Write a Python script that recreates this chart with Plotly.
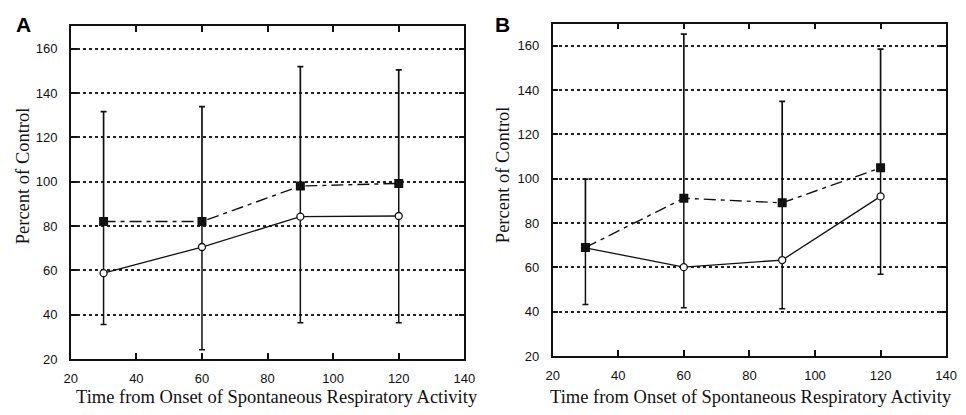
import plotly.graph_objects as go

W, H = 966, 415

time = [30, 60, 90, 120]

# Panel A
a_square = [82, 82, 98, 99.2]
a_square_upper = [131.6, 133.8, 151.9, 150.4]
a_circle = [58.7, 70.5, 84.2, 84.5]
a_circle_lower = [35.5, 24.1, 36.3, 36.3]

# Panel B
b_square = [69, 91.2, 89.1, 104.9]
b_square_upper = [99.8, 165.2, 134.9, 158.5]
b_circle = [68.8, 60.1, 63.3, 92]
b_circle_lower = [43.2, 41.8, 41.3, 56.9]

x_ticks = [20, 40, 60, 80, 100, 120, 140]
y_ticks = [20, 40, 60, 80, 100, 120, 140, 160]

TICKFONT = dict(family="Liberation Sans, Arial", size=13, color="#111")
TITLEFONT = dict(family="Liberation Serif, Times New Roman", size=18.5, color="#111")

fig = go.Figure()


def add_panel(xa, ya, sq, sq_up, ci, ci_lo):
    # open-circle series: lower error bar plus connector up to the square
    fig.add_trace(go.Scatter(
        x=time, y=ci, xaxis=xa, yaxis=ya, mode="lines+markers",
        line=dict(color="#111", width=1.3),
        marker=dict(symbol="circle", size=7, color="white",
                    line=dict(color="#111", width=1.3)),
        error_y=dict(type="data", symmetric=False,
                     array=[s - c for s, c in zip(sq, ci)],
                     arrayminus=[c - l for c, l in zip(ci, ci_lo)],
                     color="#111", thickness=1.5, width=3),
        showlegend=False, hoverinfo="skip"))
    # filled-square series: upper error bar
    fig.add_trace(go.Scatter(
        x=time, y=sq, xaxis=xa, yaxis=ya, mode="lines+markers",
        line=dict(color="#111", width=1.4, dash="12px,5px,4px,5px"),
        marker=dict(symbol="square", size=9, color="#111",
                    line=dict(color="#111", width=0)),
        error_y=dict(type="data", symmetric=False,
                     array=[u - s for u, s in zip(sq_up, sq)],
                     arrayminus=[0] * len(sq),
                     color="#111", thickness=1.7, width=3),
        showlegend=False, hoverinfo="skip"))


add_panel("x", "y", a_square, a_square_upper, a_circle, a_circle_lower)
add_panel("x2", "y2", b_square, b_square_upper, b_circle, b_circle_lower)

xax = dict(range=[20, 140], tickvals=x_ticks, ticks="inside", ticklen=6,
           tickwidth=1.5, tickcolor="#111", showline=True, linecolor="#111",
           linewidth=1.5, mirror="ticks", showgrid=False, zeroline=False,
           tickfont=TICKFONT, ticklabelstandoff=7)
yax = dict(range=[20, 170], tickvals=y_ticks, ticks="inside", ticklen=6,
           tickwidth=1.5, tickcolor="#111", showline=True, linecolor="#111",
           linewidth=1.5, mirror="ticks", showgrid=True, gridcolor="#222",
           gridwidth=1.5, griddash="dot", zeroline=False, tickfont=TICKFONT,
           ticklabelstandoff=9)

fig.update_layout(
    width=W, height=H,
    margin=dict(l=0, r=0, t=0, b=0),
    paper_bgcolor="white", plot_bgcolor="white",
    xaxis=dict(xax, domain=[65 / W, 466 / W], anchor="y"),
    yaxis=dict(yax, domain=[1 - 366 / H, 1 - 27 / H], anchor="x"),
    xaxis2=dict(xax, domain=[556 / W, 957 / W], anchor="y2"),
    yaxis2=dict(yax, domain=[1 - 363 / H, 1 - 24 / H], anchor="x2"),
)

xtitle = "Time from Onset of Spontaneous Respiratory Activity"
ytitle = "Percent of Control"
ann = [
    dict(x=275 / W, y=1 - 405 / H, text=xtitle, font=TITLEFONT),
    dict(x=758 / W, y=1 - 405 / H, text=xtitle, font=TITLEFONT),
    dict(x=16 / W, y=1 - 179 / H, text=ytitle, font=TITLEFONT, textangle=-90),
    dict(x=505 / W, y=1 - 178 / H, text=ytitle, font=TITLEFONT, textangle=-90),
    dict(x=17 / W, y=1 - 25 / H, text="<b>A</b>",
         font=dict(family="Liberation Sans, Arial", size=21, color="#000")),
    dict(x=505 / W, y=1 - 25 / H, text="<b>B</b>",
         font=dict(family="Liberation Sans, Arial", size=21, color="#000")),
]
for a in ann:
    a.update(xref="paper", yref="paper", showarrow=False,
             xanchor="center", yanchor="middle")
fig.update_layout(annotations=ann)

fig.write_html("out.html")
